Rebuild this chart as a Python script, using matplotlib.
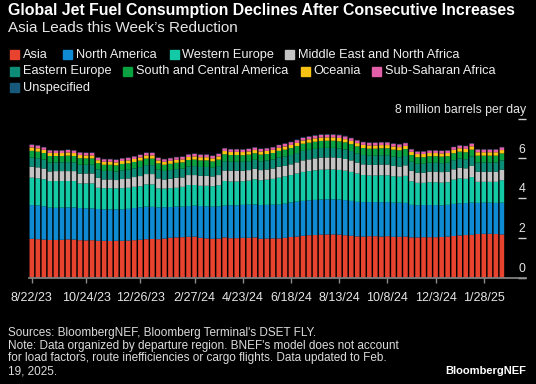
import matplotlib
matplotlib.use("Agg")
import matplotlib.pyplot as plt
from matplotlib.patches import Rectangle
import numpy as np
import pandas as pd

W, H = 536, 384
plt.rcParams['font.family'] = ['Liberation Sans', 'DejaVu Sans']

# weekly data, 8/22/23 .. 2/18/25
weeks = pd.date_range("2023-08-22", periods=79, freq="7D")
tick_labels = ["8/22/23", "10/24/23", "12/26/23", "2/27/24", "4/23/24",
               "6/18/24", "8/13/24", "10/8/24", "12/3/24", "1/28/25"]

regions = ["Asia", "North America", "Western Europe", "Middle East and North Africa",
           "Eastern Europe", "South and Central America", "Oceania",
           "Sub-Saharan Africa", "Unspecified"]
colors = ["#e8432f", "#0e8bd2", "#14caa6", "#c4c4c4", "#0d8c77",
          "#0aa140", "#f9c315", "#e35fa8", "#17597a"]

asia = [1.95, 1.93, 1.91, 1.89, 1.89, 1.90, 1.92, 1.91, 1.88, 1.87,
        1.88, 1.85, 1.85, 1.84, 1.85, 1.85, 1.86, 1.88, 1.90, 1.93,
        1.94, 1.93, 1.96, 2.00, 2.02, 2.03, 2.05, 2.06, 2.00, 1.97,
        1.95, 1.96, 2.02, 1.98, 1.98, 2.00, 2.00, 2.02, 1.95, 1.96,
        1.97, 1.97, 2.00, 2.04, 2.06, 2.10, 2.13, 2.14, 2.16, 2.17,
        2.17, 2.16, 2.13, 2.10, 2.07, 2.06, 2.08, 2.08, 2.06, 2.08,
        2.05, 2.05, 2.06, 2.02, 2.02, 2.03, 2.03, 2.03, 2.04, 2.06,
        2.09, 2.12, 2.14, 2.15, 2.19, 2.20, 2.20, 2.19, 2.17]
north_america = [1.70, 1.70, 1.68, 1.63, 1.62, 1.62, 1.61, 1.62, 1.62, 1.61,
                 1.60, 1.60, 1.58, 1.59, 1.58, 1.58, 1.60, 1.62, 1.64, 1.64,
                 1.62, 1.60, 1.58, 1.55, 1.55, 1.54, 1.55, 1.56, 1.60, 1.62,
                 1.62, 1.62, 1.60, 1.66, 1.66, 1.66, 1.67, 1.66, 1.70, 1.70,
                 1.70, 1.70, 1.72, 1.74, 1.76, 1.76, 1.76, 1.77, 1.77, 1.77,
                 1.77, 1.77, 1.77, 1.76, 1.74, 1.74, 1.72, 1.72, 1.73, 1.72,
                 1.72, 1.72, 1.70, 1.64, 1.62, 1.62, 1.62, 1.62, 1.59, 1.60,
                 1.62, 1.62, 1.61, 1.62, 1.57, 1.57, 1.57, 1.57, 1.60]
western_europe = [1.38, 1.37, 1.36, 1.34, 1.35, 1.34, 1.33, 1.33, 1.24, 1.26,
                  1.26, 1.07, 1.07, 1.07, 1.06, 1.07, 1.06, 1.07, 1.06, 1.12,
                  1.13, 0.96, 0.94, 0.95, 0.95, 1.00, 1.06, 1.04, 1.02, 1.03,
                  1.03, 1.07, 1.24, 1.20, 1.20, 1.19, 1.21, 1.27, 1.25, 1.27,
                  1.30, 1.36, 1.38, 1.38, 1.42, 1.46, 1.47, 1.49, 1.50, 1.50,
                  1.50, 1.49, 1.48, 1.46, 1.43, 1.36, 1.34, 1.34, 1.36, 1.35,
                  1.33, 1.31, 1.36, 1.19, 1.13, 1.12, 1.15, 1.15, 1.15, 1.14,
                  1.22, 1.25, 1.22, 1.29, 1.06, 1.05, 1.05, 1.06, 1.13]
mena = [0.55, 0.55, 0.54, 0.48, 0.50, 0.50, 0.50, 0.50, 0.49, 0.50,
        0.50, 0.50, 0.44, 0.44, 0.42, 0.46, 0.47, 0.49, 0.51, 0.52,
        0.52, 0.50, 0.46, 0.47, 0.50, 0.47, 0.50, 0.50, 0.50, 0.50,
        0.49, 0.51, 0.53, 0.54, 0.54, 0.53, 0.53, 0.53, 0.51, 0.51,
        0.52, 0.55, 0.52, 0.54, 0.56, 0.58, 0.59, 0.60, 0.61, 0.61,
        0.61, 0.60, 0.59, 0.58, 0.55, 0.54, 0.53, 0.53, 0.54, 0.54,
        0.52, 0.51, 0.53, 0.53, 0.51, 0.51, 0.53, 0.53, 0.53, 0.53,
        0.52, 0.54, 0.53, 0.56, 0.51, 0.51, 0.51, 0.51, 0.53]
eastern_europe = [0.46, 0.46, 0.45, 0.45, 0.44, 0.44, 0.45, 0.44, 0.45, 0.44,
                  0.44, 0.43, 0.43, 0.43, 0.43, 0.44, 0.44, 0.44, 0.45, 0.45,
                  0.45, 0.44, 0.43, 0.44, 0.44, 0.44, 0.44, 0.45, 0.45, 0.45,
                  0.44, 0.45, 0.47, 0.45, 0.45, 0.45, 0.45, 0.45, 0.45, 0.45,
                  0.45, 0.46, 0.47, 0.47, 0.47, 0.48, 0.48, 0.48, 0.48, 0.48,
                  0.48, 0.48, 0.48, 0.47, 0.47, 0.47, 0.47, 0.47, 0.47, 0.47,
                  0.47, 0.47, 0.47, 0.45, 0.45, 0.45, 0.45, 0.45, 0.45, 0.45,
                  0.46, 0.46, 0.46, 0.47, 0.46, 0.46, 0.46, 0.46, 0.47]
south_central_america = [0.34, 0.33, 0.33, 0.33, 0.32, 0.32, 0.33, 0.32, 0.33, 0.32,
                         0.32, 0.31, 0.31, 0.31, 0.31, 0.32, 0.32, 0.32, 0.33, 0.33,
                         0.33, 0.32, 0.31, 0.32, 0.32, 0.32, 0.32, 0.33, 0.33, 0.33,
                         0.32, 0.33, 0.35, 0.34, 0.34, 0.33, 0.33, 0.33, 0.33, 0.33,
                         0.33, 0.34, 0.35, 0.35, 0.35, 0.36, 0.36, 0.36, 0.36, 0.36,
                         0.36, 0.36, 0.36, 0.35, 0.35, 0.35, 0.35, 0.35, 0.35, 0.35,
                         0.35, 0.35, 0.35, 0.34, 0.33, 0.33, 0.33, 0.33, 0.33, 0.33,
                         0.35, 0.35, 0.35, 0.35, 0.35, 0.35, 0.35, 0.35, 0.35]
oceania = [0.17, 0.17, 0.16, 0.16, 0.15, 0.15, 0.16, 0.15, 0.16, 0.15,
           0.15, 0.15, 0.15, 0.15, 0.15, 0.15, 0.15, 0.15, 0.16, 0.16,
           0.16, 0.15, 0.15, 0.15, 0.15, 0.15, 0.15, 0.16, 0.16, 0.16,
           0.15, 0.16, 0.16, 0.16, 0.16, 0.16, 0.16, 0.16, 0.16, 0.16,
           0.16, 0.16, 0.16, 0.16, 0.16, 0.16, 0.17, 0.17, 0.17, 0.17,
           0.17, 0.17, 0.16, 0.16, 0.16, 0.16, 0.16, 0.16, 0.16, 0.16,
           0.16, 0.16, 0.16, 0.16, 0.16, 0.16, 0.16, 0.16, 0.16, 0.16,
           0.17, 0.17, 0.17, 0.17, 0.17, 0.17, 0.17, 0.17, 0.17]
sub_saharan_africa = [0.14, 0.14, 0.13, 0.13, 0.13, 0.13, 0.13, 0.13, 0.13, 0.13,
                      0.13, 0.13, 0.13, 0.13, 0.13, 0.13, 0.13, 0.13, 0.13, 0.13,
                      0.13, 0.13, 0.13, 0.13, 0.13, 0.13, 0.13, 0.13, 0.13, 0.13,
                      0.13, 0.13, 0.14, 0.13, 0.13, 0.13, 0.13, 0.13, 0.13, 0.13,
                      0.13, 0.13, 0.14, 0.14, 0.14, 0.14, 0.14, 0.14, 0.14, 0.14,
                      0.14, 0.14, 0.14, 0.14, 0.14, 0.14, 0.14, 0.14, 0.14, 0.14,
                      0.14, 0.14, 0.14, 0.13, 0.13, 0.13, 0.13, 0.13, 0.13, 0.13,
                      0.14, 0.14, 0.14, 0.14, 0.14, 0.14, 0.14, 0.14, 0.14]
unspecified = [0.02, 0.02, 0.02, 0.02, 0.02, 0.02, 0.02, 0.02, 0.02, 0.02,
               0.02, 0.02, 0.02, 0.02, 0.02, 0.02, 0.02, 0.02, 0.02, 0.02,
               0.02, 0.02, 0.02, 0.02, 0.02, 0.02, 0.02, 0.02, 0.02, 0.02,
               0.02, 0.02, 0.02, 0.02, 0.02, 0.02, 0.02, 0.02, 0.02, 0.02,
               0.02, 0.02, 0.02, 0.02, 0.03, 0.03, 0.03, 0.03, 0.03, 0.03,
               0.03, 0.03, 0.03, 0.02, 0.02, 0.02, 0.02, 0.02, 0.02, 0.02,
               0.02, 0.02, 0.02, 0.02, 0.02, 0.02, 0.02, 0.02, 0.02, 0.02,
               0.02, 0.02, 0.02, 0.02, 0.02, 0.02, 0.02, 0.02, 0.02]

series = [asia, north_america, western_europe, mena, eastern_europe,
          south_central_america, oceania, sub_saharan_africa, unspecified]

y_ticks = [0, 2, 4, 6, 8]
y_tick_labels = ["0", "2", "4", "6", "8 million barrels per day"]

fig = plt.figure(figsize=(W / 100, H / 100), dpi=100, facecolor="black")


def px_text(x, y, s, **kw):
    # place text using pixel coords measured from top-left
    fig.text(x / W, 1 - y / H, s, **kw)


# titles
px_text(8, 10.5, "Global Jet Fuel Consumption Declines After Consecutive Increases",
        color="white", fontsize=11.4, fontweight="bold", va="center")
px_text(8, 28, "Asia Leads this Week\u2019s Reduction", color="#e6e6e6",
        fontsize=11, va="center")

# legend, laid out like the original (flowing rows)
legend_pos = [(10, 54.8), (62.7, 54.8), (169.5, 54.8), (285, 54.8),
              (10, 71.2), (122.6, 71.2), (300.7, 71.2), (372.3, 71.2),
              (10, 87.7)]
for name, c, (lx, ly) in zip(regions, colors, legend_pos):
    fig.patches.append(Rectangle((lx / W, 1 - (ly + 4.5) / H), 9 / W, 9 / H,
                                 transform=fig.transFigure, color=c))
    px_text(lx + 13, ly, name, color="#f0f0f0", fontsize=9.2, va="center")

# chart area
ax = fig.add_axes([29.3 / W, 1 - 277.5 / H, (526 - 29.3) / W, (277.5 - 118.7) / H])
ax.set_facecolor("black")

x = np.arange(len(weeks))
bottom = np.zeros(len(x))
for vals, c in zip(series, colors):
    bars = ax.bar(x, vals, 0.76, bottom=bottom, color=c, linewidth=0)
    for b in bars:
        b.set_snap(False)
    bottom += np.array(vals)

ax.set_xlim(-0.42, 82)
ax.set_ylim(0, 8)
for s in ["left", "right", "top"]:
    ax.spines[s].set_visible(False)
ax.spines["bottom"].set_color("#8a8a8a")
ax.spines["bottom"].set_linewidth(1.2)

date_labels = [f"{d.month}/{d.day}/{d:%y}" for d in weeks]
ax.set_xticks([date_labels.index(t) for t in tick_labels], tick_labels)
ax.tick_params(axis="x", length=3.5, width=1, color="#8a8a8a",
               labelcolor="#e6e6e6", labelsize=9, pad=7)

ax.yaxis.tick_right()
ax.set_yticks(y_ticks)
ax.tick_params(axis="y", direction="in", length=6, width=1, color="#d0d0d0",
               labelright=False)
for v, lab in zip(y_ticks, y_tick_labels):
    if v == y_ticks[-1]:
        ax.annotate(lab, xy=(1, v), xycoords=("axes fraction", "data"),
                    xytext=(0, 4.2), textcoords="offset points", ha="right",
                    va="baseline", color="#e6e6e6", fontsize=8.8,
                    annotation_clip=False)
    else:
        ax.annotate(lab, xy=(1, v), xycoords=("axes fraction", "data"),
                    xytext=(-3, 4.2), textcoords="offset points", ha="center",
                    va="baseline", color="#e6e6e6", fontsize=8.8,
                    annotation_clip=False)

# footer
notes = ["Sources: BloombergNEF, Bloomberg Terminal's DSET FLY.",
         "Note: Data organized by departure region. BNEF's model does not account",
         "for load factors, route inefficiencies or cargo flights. Data updated to Feb.",
         "19, 2025."]
for i, line in enumerate(notes):
    px_text(8, 333 + i * 12.7, line, color="#dcdcdc", fontsize=8.5, va="center")
fig.text(526 / W, 1 - 371 / H, "BloombergNEF", color="white", fontsize=8,
         fontweight="bold", ha="right", va="center")

fig.savefig("out.png", dpi=100, facecolor="black")
